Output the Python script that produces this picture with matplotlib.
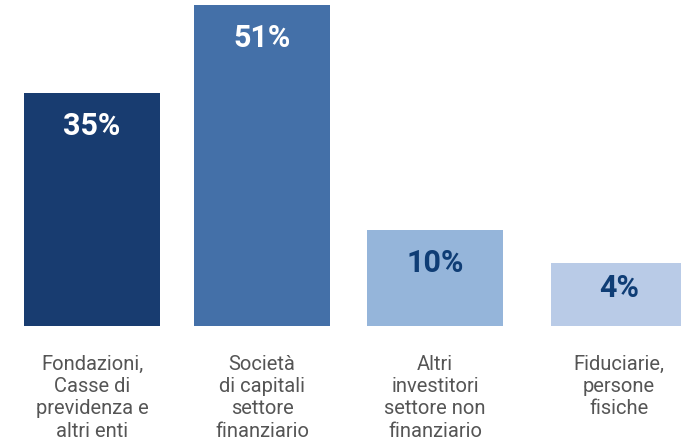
import matplotlib
matplotlib.use("Agg")
import matplotlib.pyplot as plt
import numpy as np

# ---- data ----
categories = [
    "Fondazioni,\nCasse di\nprevidenza e\naltri enti",
    "Società\ndi capitali\nsettore\nfinanziario",
    "Altri\ninvestitori\nsettore non\nfinanziario",
    "Fiduciarie,\npersone\nfisiche",
]
values = [35, 51, 10, 4]
value_labels = ["35%", "51%", "10%", "4%"]

# ---- style ----
bar_colors = ["#183c70", "#4470a8", "#95b5da", "#b9cbe7"]
label_colors = ["white", "white", "#0f3d75", "#0f3d75"]
cat_color = "#555555"
fam = ["Roboto", "DejaVu Sans"]

W, H, DPI = 681, 445, 100
fig = plt.figure(figsize=(W / DPI, H / DPI), dpi=DPI)
ax = fig.add_axes([0, 0, 1, 1])

# layout (positions in bar-spacing units)
xpos = np.array([0.0, 0.968, 1.953, 3.0])
width = 0.774
base = -7.6
ax.set_xlim(-0.524, 3.353)
ax.set_ylim(-29.3, 52.0)

ax.bar(xpos, np.array(values) - base, bottom=base, width=width,
       color=bar_colors, linewidth=0)

# pixel scale for vertical offsets
px_per_unit = H / (52.0 - (-29.3))
for x, v, lab, c in zip(xpos, values, value_labels, label_colors):
    h_px = (v - base) * px_per_unit
    off_px = min(33, 0.4 * h_px)
    ax.annotate(lab, (x, v), xytext=(0, -off_px * 72 / DPI),
                textcoords="offset points", ha="center", va="center",
                color=c, fontsize=22, fontweight="bold", family=fam)

# category labels below bars
label_top_y = base - (355 - 326.5) / px_per_unit
for x, cat in zip(xpos, categories):
    ax.text(x, label_top_y, cat, ha="center", va="top", color=cat_color,
            fontsize=14.5, fontweight="normal", family=fam, linespacing=1.22)

ax.axis("off")
fig.savefig("out.png", dpi=DPI)
